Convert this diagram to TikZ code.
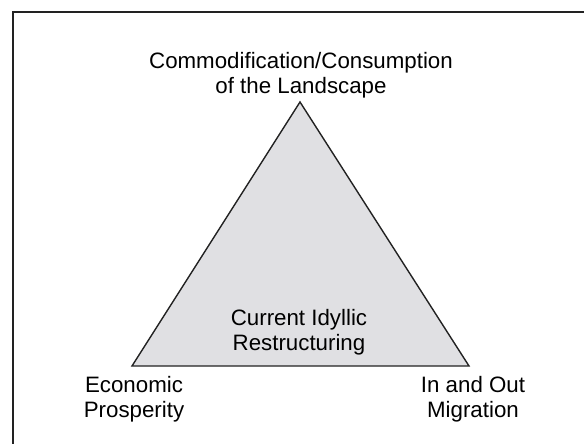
\documentclass[tikz,border=0pt]{standalone}
\usepackage{fontspec}
\setmainfont{Liberation Sans}
\definecolor{trifill}{RGB}{224,224,227}
\definecolor{frameline}{RGB}{34,34,34}
\begin{document}
\begin{tikzpicture}[x=1pt,y=-1pt,
  lbl/.style={align=center,inner sep=0pt,anchor=base,
    font=\fontsize{22.3}{24.5}\selectfont},
  tri/.style={draw=frameline,fill=trifill,line width=1.4pt,line join=miter}]
\useasboundingbox (0,0) rectangle (584,444);
\draw[frameline,line width=2pt] (13,446) -- (13,12) -- (586,12);
\coordinate (A) at (300,102);
\coordinate (B) at (132,366);
\coordinate (C) at (469,366);
\filldraw[tri] (A) -- (B) -- (C) -- cycle;
\node[lbl] (top) at (301,93) {Commodification/Consumption\\of the Landscape};
\node[lbl] (mid) at (299,350) {Current Idyllic\\Restructuring};
\node[lbl] (left) at (134,417) {Economic\\Prosperity};
\node[lbl] (right) at (473,417) {In and Out\\Migration};
\end{tikzpicture}
\end{document}
